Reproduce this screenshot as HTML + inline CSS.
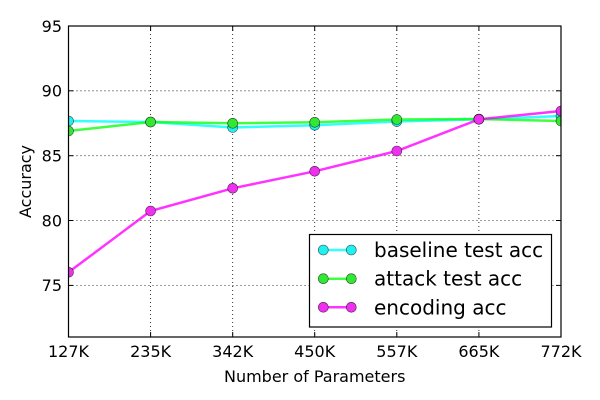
<!DOCTYPE html>
<html>
<head>
<meta charset="utf-8">
<style>
  html, body { margin: 0; padding: 0; background: #ffffff; }
  svg { display: block; }
  text { font-family: "DejaVu Sans", "Liberation Sans", sans-serif; fill: #000; }
</style>
</head>
<body>
<svg width="600" height="400" viewBox="0 0 600 400" xmlns="http://www.w3.org/2000/svg">
  <rect x="0" y="0" width="600" height="400" fill="#ffffff"/>

  <!-- grid -->
  <g stroke="#000" stroke-width="0.8" stroke-dasharray="1,3" fill="none">
    <line x1="150.6" y1="26" x2="150.6" y2="337"/>
    <line x1="232.7" y1="26" x2="232.7" y2="337"/>
    <line x1="314.7" y1="26" x2="314.7" y2="337"/>
    <line x1="396.8" y1="26" x2="396.8" y2="337"/>
    <line x1="478.9" y1="26" x2="478.9" y2="337"/>
    <line x1="68.5" y1="90.8" x2="561" y2="90.8"/>
    <line x1="68.5" y1="155.7" x2="561" y2="155.7"/>
    <line x1="68.5" y1="220.5" x2="561" y2="220.5"/>
    <line x1="68.5" y1="285.4" x2="561" y2="285.4"/>
  </g>

  <!-- ticks -->
  <g stroke="#000" stroke-width="1">
    <line x1="150.6" y1="337" x2="150.6" y2="332"/>
    <line x1="232.7" y1="337" x2="232.7" y2="332"/>
    <line x1="314.7" y1="337" x2="314.7" y2="332"/>
    <line x1="396.8" y1="337" x2="396.8" y2="332"/>
    <line x1="478.9" y1="337" x2="478.9" y2="332"/>
    <line x1="150.6" y1="26" x2="150.6" y2="31"/>
    <line x1="232.7" y1="26" x2="232.7" y2="31"/>
    <line x1="314.7" y1="26" x2="314.7" y2="31"/>
    <line x1="396.8" y1="26" x2="396.8" y2="31"/>
    <line x1="478.9" y1="26" x2="478.9" y2="31"/>
    <line x1="68.5" y1="90.8" x2="73.5" y2="90.8"/>
    <line x1="68.5" y1="155.7" x2="73.5" y2="155.7"/>
    <line x1="68.5" y1="220.5" x2="73.5" y2="220.5"/>
    <line x1="68.5" y1="285.4" x2="73.5" y2="285.4"/>
    <line x1="561" y1="90.8" x2="556" y2="90.8"/>
    <line x1="561" y1="155.7" x2="556" y2="155.7"/>
    <line x1="561" y1="220.5" x2="556" y2="220.5"/>
    <line x1="561" y1="285.4" x2="556" y2="285.4"/>
  </g>

  <!-- series: baseline (cyan) -->
  <polyline fill="none" stroke="#00ffff" stroke-opacity="0.8" stroke-width="2.5"
    points="68.5,121 150.6,122 232.7,127.5 314.7,125.3 396.8,121.5 478.9,119.3 561,116"/>
  <!-- attack (green) -->
  <polyline fill="none" stroke="#00ff00" stroke-opacity="0.75" stroke-width="2.5"
    points="68.5,131 150.6,122 232.7,123.3 314.7,122.3 396.8,119.5 478.9,119 561,121"/>
  <!-- encoding (magenta) -->
  <polyline fill="none" stroke="#ff00ff" stroke-opacity="0.8" stroke-width="2.5"
    points="68.5,272.3 150.6,211 232.7,188.3 314.7,171.3 396.8,151 478.9,119.3 561,111"/>

  <g clip-path="url(#plotclip)">
  <g stroke="#000" stroke-width="0.6" stroke-opacity="0.7">
    <!-- baseline markers -->
    <g fill="#22f0f0">
      <circle cx="68.5" cy="121" r="5"/>
      <circle cx="150.6" cy="122" r="5"/>
      <circle cx="232.7" cy="127.5" r="5"/>
      <circle cx="314.7" cy="125.3" r="5"/>
      <circle cx="396.8" cy="121.5" r="5"/>
      <circle cx="478.9" cy="119.3" r="5"/>
      <circle cx="561" cy="116" r="5"/>
    </g>
    <!-- attack markers -->
    <g fill="#33e833">
      <circle cx="68.5" cy="131" r="5"/>
      <circle cx="150.6" cy="122" r="5"/>
      <circle cx="232.7" cy="123.3" r="5"/>
      <circle cx="314.7" cy="122.3" r="5"/>
      <circle cx="396.8" cy="119.5" r="5"/>
      <circle cx="478.9" cy="119" r="5"/>
      <circle cx="561" cy="121" r="5"/>
    </g>
    <!-- encoding markers -->
    <g fill="#f030f0">
      <circle cx="68.5" cy="272.3" r="5"/>
      <circle cx="150.6" cy="211" r="5"/>
      <circle cx="232.7" cy="188.3" r="5"/>
      <circle cx="314.7" cy="171.3" r="5"/>
      <circle cx="396.8" cy="151" r="5"/>
      <circle cx="478.9" cy="119.3" r="5"/>
      <circle cx="561" cy="111" r="5"/>
    </g>
  </g>
  </g>
  <defs>
    <clipPath id="plotclip"><rect x="68.5" y="26" width="492.5" height="311"/></clipPath>
  </defs>

  <!-- axes frame -->
  <rect x="68.5" y="26" width="492.5" height="311" fill="none" stroke="#000" stroke-width="1.2"/>

  <!-- legend -->
  <rect x="309.5" y="234.5" width="242" height="92.5" fill="#ffffff" stroke="#000" stroke-width="1.2"/>
  <g stroke-width="2.5">
    <line x1="323.3" y1="250" x2="351.3" y2="250" stroke="#00ffff" stroke-opacity="0.8"/>
    <line x1="323.3" y1="278.7" x2="351.3" y2="278.7" stroke="#00ff00" stroke-opacity="0.75"/>
    <line x1="323.3" y1="307.3" x2="351.3" y2="307.3" stroke="#ff00ff" stroke-opacity="0.8"/>
  </g>
  <g stroke="#000" stroke-width="0.6" stroke-opacity="0.7">
    <circle cx="323.3" cy="250" r="5" fill="#22f0f0"/>
    <circle cx="351.3" cy="250" r="5" fill="#22f0f0"/>
    <circle cx="323.3" cy="278.7" r="5" fill="#33e833"/>
    <circle cx="351.3" cy="278.7" r="5" fill="#33e833"/>
    <circle cx="323.3" cy="307.3" r="5" fill="#f030f0"/>
    <circle cx="351.3" cy="307.3" r="5" fill="#f030f0"/>
  </g>
  <g font-size="20">
    <text x="374" y="257">baseline test acc</text>
    <text x="374" y="285.7">attack test acc</text>
    <text x="374" y="314.3">encoding acc</text>
  </g>

  <!-- y tick labels -->
  <g font-size="16" text-anchor="end">
    <text x="62" y="31.8">95</text>
    <text x="62" y="96.6">90</text>
    <text x="62" y="161.5">85</text>
    <text x="62" y="226.3">80</text>
    <text x="62" y="291.2">75</text>
  </g>

  <!-- x tick labels -->
  <g font-size="16" text-anchor="middle">
    <text x="68.5" y="357">127K</text>
    <text x="150.6" y="357">235K</text>
    <text x="232.7" y="357">342K</text>
    <text x="314.7" y="357">450K</text>
    <text x="396.8" y="357">557K</text>
    <text x="478.9" y="357">665K</text>
    <text x="561" y="357">772K</text>
  </g>

  <!-- axis labels -->
  <text x="314.7" y="382" font-size="16" text-anchor="middle">Number of Parameters</text>
  <text x="0" y="0" font-size="16" text-anchor="middle" transform="translate(31,181.5) rotate(-90)">Accuracy</text>
</svg>
</body>
</html>
